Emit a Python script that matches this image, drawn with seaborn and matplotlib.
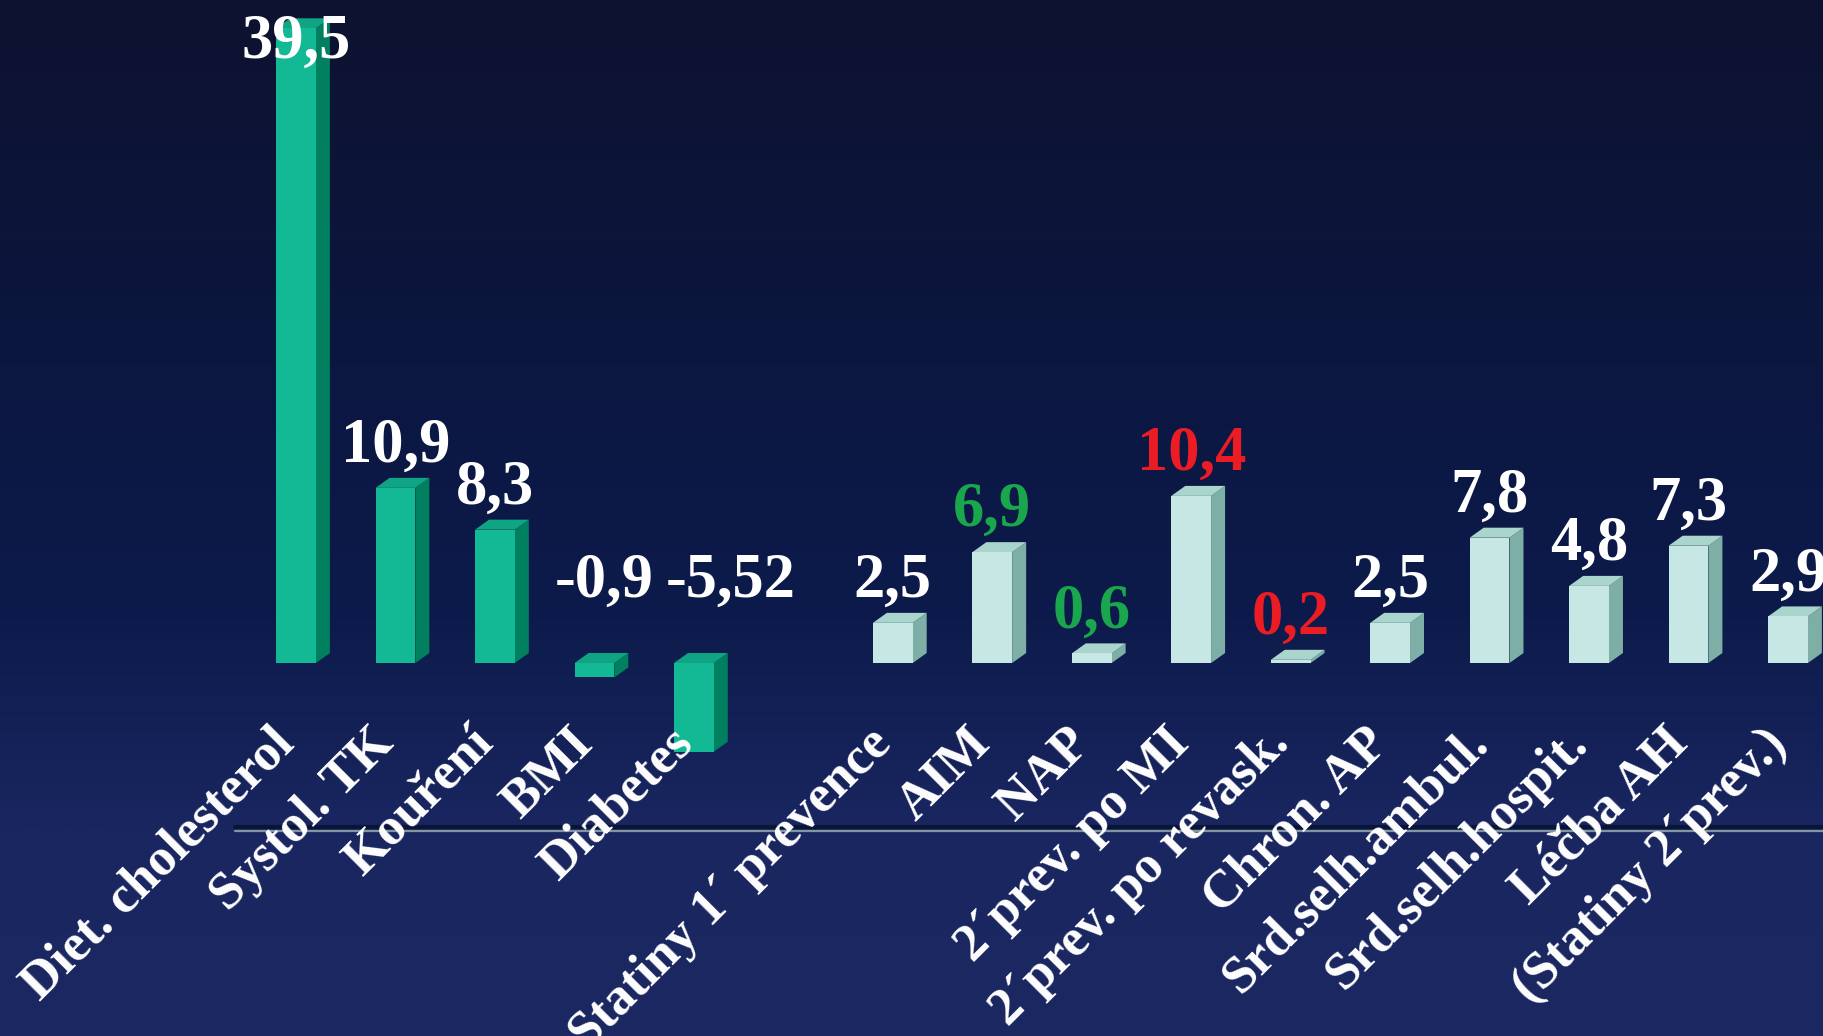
import numpy as np
import pandas as pd
import matplotlib
matplotlib.use("Agg")
import matplotlib.pyplot as plt
import seaborn as sns
from matplotlib.colors import LinearSegmentedColormap
from matplotlib.patches import Polygon
from matplotlib.lines import Line2D
from matplotlib.transforms import ScaledTranslation, blended_transform_factory

# ---------------- data ----------------
categories = ["Diet. cholesterol", "Systol. TK", "Kouření", "BMI", "Diabetes",
              "Statiny 1´ prevence", "AIM", "NAP", "2´prev. po MI",
              "2´prev. po revask.", "Chron. AP", "Srd.selh.ambul.",
              "Srd.selh.hospit.", "Léčba AH", "(Statiny 2´prev.)"]
values = [39.5, 10.9, 8.3, -0.9, -5.52, 2.5, 6.9, 0.6, 10.4, 0.2,
          2.5, 7.8, 4.8, 7.3, 2.9]
value_labels = ["39,5", "10,9", "8,3", "-0,9", "-5,52", "2,5", "6,9", "0,6",
                "10,4", "0,2", "2,5", "7,8", "4,8", "7,3", "2,9"]
groups = ["rizikové faktory"] * 5 + ["léčba"] * 10

# ---------------- style ----------------
WHITE, GREEN, RED = "#ffffff", "#1aa64c", "#ec1c24"
label_colors = [WHITE, WHITE, WHITE, WHITE, WHITE, WHITE, GREEN, GREEN,
                RED, RED, WHITE, WHITE, WHITE, WHITE, WHITE]
front = {"rizikové faktory": "#13b994", "léčba": "#c6e7e4"}
side = {"rizikové faktory": "#00805f", "léčba": "#7dafa6"}
top = {"rizikové faktory": "#0fa484", "léčba": "#a9d5cd"}
neg_label_nudge = {"BMI": -14, "Diabetes": -6}   # points, layout tweak

sns.set_style("white")
plt.rcParams["font.family"] = ["Liberation Serif", "DejaVu Serif"]

W, H, DPI = 1823, 1036, 100
fig = plt.figure(figsize=(W / DPI, H / DPI), dpi=DPI)

# background gradient
bg = fig.add_axes([0, 0, 1, 1], zorder=-10)
cmap = LinearSegmentedColormap.from_list(
    "bg", [(0.0, "#0e1230"), (0.35, "#0b1740"), (0.6, "#0d1b4c"),
           (0.8, "#1a2660"), (1.0, "#1c2862")])
grad = np.linspace(0, 1, 512).reshape(-1, 1)
bg.imshow(grad, aspect="auto", cmap=cmap, extent=[0, 1, 0, 1], origin="upper")
bg.set_axis_off()

# decorative line under plot area
y_line = (H - 831) / H
fig.add_artist(Line2D([235 / W, 1], [y_line + 4 / H] * 2, color="#0a1436",
                      lw=3, zorder=-5))
fig.add_artist(Line2D([235 / W, 1], [y_line, y_line], color="#8296a2",
                      lw=1.6, zorder=-5))

# main axes
ax = fig.add_axes([0, 305 / H, 1, 731 / H], zorder=0)
ax.patch.set_alpha(0)

order = categories[:5] + [" "] + categories[5:]
df = pd.DataFrame({"kategorie": categories, "hodnota": values, "skupina": groups})
sns.barplot(data=df, x="kategorie", y="hodnota", hue="skupina", order=order,
            palette=front, dodge=False, width=0.4, errorbar=None,
            legend=False, ax=ax, saturation=1, linewidth=0)

ax.set_xlim(-2.976, 15.352)
ax.set_ylim(-4.23, 41.26)
for s in ax.spines.values():
    s.set_visible(False)
ax.set_yticks([])
ax.set_xlabel("")
ax.set_ylabel("")
ax.set_xticks(range(len(order)))
ax.set_xticklabels(order, rotation=45, ha="right", rotation_mode="anchor",
                   fontsize=38, fontweight="bold", color="white")
ax.tick_params(axis="x", length=0, pad=0)
ax.xaxis.set_zorder(4)
for lab in ax.get_xticklabels():
    lab.set_transform(lab.get_transform()
                      + ScaledTranslation(-26 / DPI, 12 / DPI, fig.dpi_scale_trans))

# 3D depth
px_x = W / (15.352 + 2.976)
px_y = 731 / (41.26 + 4.23)
dx, dy = 14 / px_x, 10 / px_y

cat_index = {c: i for i, c in enumerate(categories)}
bars = {}
for p in ax.patches:
    w = p.get_width()
    h = p.get_height()
    if not np.isfinite(h) or w == 0:
        continue
    slot = int(round(p.get_x() + w / 2))
    cat = order[slot]
    if cat not in cat_index:
        continue
    bars[cat] = p
    p.set_clip_on(False)
    p.set_zorder(2)

for cat, p in bars.items():
    g = groups[cat_index[cat]]
    x0, w = p.get_x(), p.get_width()
    x1 = x0 + w
    ya, yb = p.get_y(), p.get_y() + p.get_height()
    y0, y1 = min(ya, yb), max(ya, yb)
    ax.add_patch(Polygon([(x1, y0), (x1 + dx, y0 + dy), (x1 + dx, y1 + dy), (x1, y1)],
                         closed=True, facecolor=side[g], edgecolor="none",
                         clip_on=False, zorder=1.9))
    ax.add_patch(Polygon([(x0, y1), (x0 + dx, y1 + dy), (x1 + dx, y1 + dy), (x1, y1)],
                         closed=True, facecolor=top[g], edgecolor="none",
                         clip_on=False, zorder=1.9))

# value labels
trans_top = blended_transform_factory(ax.transData, ax.transAxes)
for cat, v, txt, col in zip(categories, values, value_labels, label_colors):
    p = bars[cat]
    cx = p.get_x() + p.get_width() / 2
    kw = dict(fontsize=45, fontweight="bold", color=col, textcoords="offset points",
              annotation_clip=False, zorder=5)
    if v < 0:
        ax.annotate(txt, xy=(p.get_x(), 0), xytext=(neg_label_nudge.get(cat, -8), 47.5),
                    ha="left", va="baseline", **kw)
    else:
        top_px = (41.26 - v) * px_y - 26 - 42
        if top_px < 0:
            ax.annotate(txt, xy=(cx, 1.0), xycoords=trans_top, xytext=(0, -10),
                        ha="center", va="top", **kw)
        else:
            ax.annotate(txt, xy=(cx, v), xytext=(0, 18.7),
                        ha="center", va="baseline", **kw)

fig.savefig("out.png", dpi=DPI)
